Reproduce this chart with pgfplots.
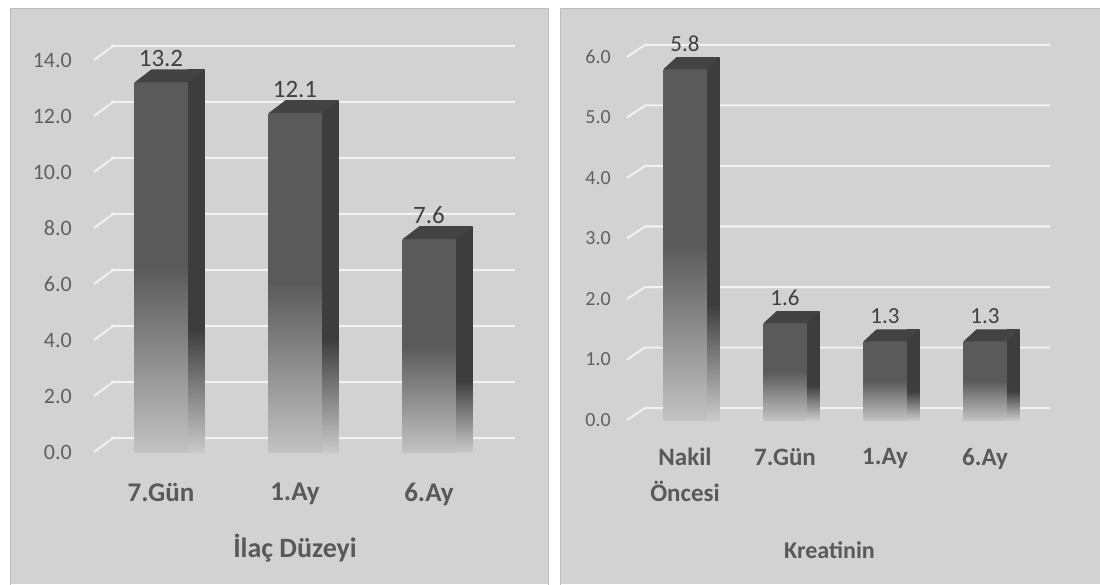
\documentclass[border=0pt]{standalone}
\usepackage{fontspec}
\setmainfont{Carlito}
\usepackage{pgfplots}
\pgfplotsset{compat=1.18}
\usepackage{pgfplotstable}

\definecolor{bg}{HTML}{D2D2D2}
\definecolor{panelborder}{HTML}{BDBDBD}
\definecolor{gridc}{HTML}{F2F2F2}
\definecolor{ftop}{HTML}{5A5A5A}
\definecolor{fbot}{HTML}{C2C2C2}
\definecolor{stop}{HTML}{3D3D3D}
\definecolor{sbot}{HTML}{C9C9C9}
\definecolor{topc}{HTML}{434343}
\definecolor{ticktext}{HTML}{606060}
\definecolor{labtext}{HTML}{404040}
\definecolor{cattext}{HTML}{595959}

\pgfdeclareverticalshading{frontshade}{100bp}{color(0bp)=(fbot); color(25bp)=(fbot); color(50bp)=(ftop); color(75bp)=(ftop); color(100bp)=(ftop)}
\pgfdeclareverticalshading{sideshade}{100bp}{color(0bp)=(sbot); color(25bp)=(sbot); color(41bp)=(stop); color(75bp)=(stop); color(100bp)=(stop)}

\pgfdeclareplotmark{topL}{%
  \pgfpathmoveto{\pgfqpoint{-26.5pt}{0pt}}%
  \pgfpathlineto{\pgfqpoint{26.5pt}{0pt}}%
  \pgfpathlineto{\pgfqpoint{43.5pt}{13pt}}%
  \pgfpathlineto{\pgfqpoint{-9.5pt}{13pt}}%
  \pgfpathclose\pgfusepathqfill}
\pgfdeclareplotmark{topR}{%
  \pgfpathmoveto{\pgfqpoint{-21.5pt}{0pt}}%
  \pgfpathlineto{\pgfqpoint{21.5pt}{0pt}}%
  \pgfpathlineto{\pgfqpoint{34.5pt}{12pt}}%
  \pgfpathlineto{\pgfqpoint{-8.5pt}{12pt}}%
  \pgfpathclose\pgfusepathqfill}

\pgfplotstableread{
x v
0 13.2
1 12.1
2 7.6
}\ilacdata

\pgfplotstableread{
x v
0 5.8
1 1.6
2 1.3
3 1.3
}\kreatdata

\begin{document}
\begin{tikzpicture}
\useasboundingbox (0,0) rectangle (1100pt,584pt);
\fill[white] (0,0) rectangle (1100pt,584pt);
\fill[bg] (10pt,0) rectangle (549pt,576pt);
\draw[panelborder, line width=1pt] (10.5pt,-1pt) -- (10.5pt,575.5pt) -- (548.5pt,575.5pt) -- (548.5pt,-1pt);
\fill[bg] (560pt,0) rectangle (1101pt,576pt);
\draw[panelborder, line width=1pt] (560.5pt,-1pt) -- (560.5pt,575.5pt) -- (1101pt,575.5pt);

% ---------------- Left: Ilac Duzeyi ----------------
\begin{axis}[
  at={(94pt,132pt)}, anchor=south west,
  scale only axis, width=402pt, height=392pt,
  xmin=-0.5, xmax=2.5, ymin=0, ymax=14,
  clip=false,
  axis line style={draw=none}, tick style={draw=none},
  ytick={0,2,...,14},
  yticklabel={\pgfmathprintnumber[fixed,fixed zerofill,precision=1,assume math mode=true]{\tick}},
  yticklabel style={anchor=east, inner sep=0pt, xshift=-22pt, font=\fontsize{22}{26}\selectfont, text=ticktext},
  xtick={0,1,2}, xticklabels={7.Gün,1.Ay,6.Ay},
  xticklabel style={anchor=north, inner sep=0pt, yshift=-31pt, font=\bfseries\fontsize{27}{32}\selectfont, text=cattext},
  xlabel={İlaç Düzeyi},
  xlabel style={at={(axis description cs:0.5,0)}, anchor=center, inner sep=0pt, yshift=-96pt, font=\bfseries\fontsize{28}{32}\selectfont, text=cattext},
]
\pgfplotsinvokeforeach{0,2,...,14}{
  \draw[gridc, line width=2pt] (axis cs:-0.5,#1) -- ++(19pt,14pt) -- ++(402pt,0pt);
}
\pgfplotsinvokeforeach{0,1,2}{
  \addplot[ybar, bar width=17pt, bar shift=35pt, draw=none, shading=sideshade, shade,
    restrict x to domain=#1:#1]
    table[x=x, y expr=\thisrow{v}+0.464] {\ilacdata};
  \addplot[ybar, bar width=53pt, bar shift=0pt, draw=none, shading=frontshade, shade,
    restrict x to domain=#1:#1]
    table[x=x, y=v] {\ilacdata};
}
\addplot[only marks, mark=topL, mark options={fill=topc, draw=none}, point meta=y,
  nodes near coords={\pgfmathprintnumber[fixed,fixed zerofill,precision=1,assume math mode=true]{\pgfplotspointmeta}},
  every node near coord/.append style={anchor=center, yshift=24pt, inner sep=0pt, font=\fontsize{25}{28}\selectfont, text=labtext}]
  table[x=x, y=v] {\ilacdata};
\end{axis}

% ---------------- Right: Kreatinin ----------------
\begin{axis}[
  at={(627pt,164pt)}, anchor=south west,
  scale only axis, width=405pt, height=363pt,
  xmin=-0.58, xmax=3.47, ymin=0, ymax=6,
  clip=false,
  axis line style={draw=none}, tick style={draw=none},
  ytick={0,1,...,6},
  yticklabel={\pgfmathprintnumber[fixed,fixed zerofill,precision=1,assume math mode=true]{\tick}},
  yticklabel style={anchor=east, inner sep=0pt, xshift=-16pt, font=\fontsize{20}{24}\selectfont, text=ticktext},
  xtick={0,1,2,3}, xticklabels={{Nakil\\Öncesi},7.Gün,1.Ay,6.Ay},
  xticklabel style={align=center, anchor=north, inner sep=0pt, yshift=-28pt, font=\bfseries\fontsize{25}{36}\selectfont, text=cattext},
  xlabel={Kreatinin},
  xlabel style={at={(axis description cs:0.5,0)}, anchor=center, inner sep=0pt, yshift=-130pt, font=\bfseries\fontsize{24}{28}\selectfont, text=cattext},
]
\pgfplotsinvokeforeach{0,1,...,6}{
  \draw[gridc, line width=2pt] (axis cs:-0.58,#1) -- ++(18pt,12pt) -- ++(405pt,0pt);
}
\pgfplotsinvokeforeach{0,1,2,3}{
  \addplot[ybar, bar width=13pt, bar shift=28pt, draw=none, shading=sideshade, shade,
    restrict x to domain=#1:#1]
    table[x=x, y expr=\thisrow{v}+0.198] {\kreatdata};
  \addplot[ybar, bar width=43pt, bar shift=0pt, draw=none, shading=frontshade, shade,
    restrict x to domain=#1:#1]
    table[x=x, y=v] {\kreatdata};
}
\addplot[only marks, mark=topR, mark options={fill=topc, draw=none}, point meta=y,
  nodes near coords={\pgfmathprintnumber[fixed,fixed zerofill,precision=1,assume math mode=true]{\pgfplotspointmeta}},
  every node near coord/.append style={anchor=center, yshift=25pt, inner sep=0pt, font=\fontsize{23}{26}\selectfont, text=labtext}]
  table[x=x, y=v] {\kreatdata};
\end{axis}
\end{tikzpicture}
\end{document}
